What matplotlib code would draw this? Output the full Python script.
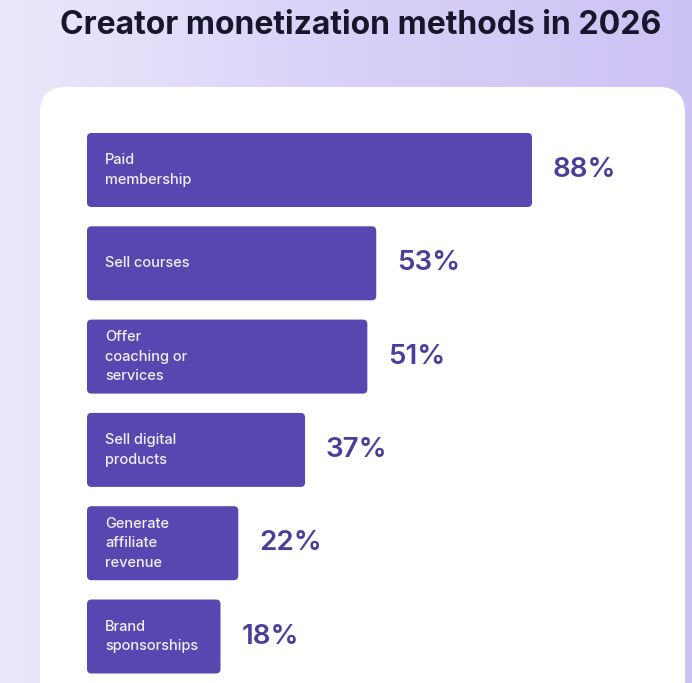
import numpy as np
import matplotlib.pyplot as plt
from matplotlib.patches import FancyBboxPatch
from matplotlib.colors import LinearSegmentedColormap

plt.rcParams['font.family'] = ['Inter', 'DejaVu Sans']

methods = ["Paid\nmembership", "Sell courses", "Offer\ncoaching or\nservices",
           "Sell digital\nproducts", "Generate\naffiliate\nrevenue", "Brand\nsponsorships"]
shares = [88, 53, 51, 37, 22, 18]
title = "Creator monetization methods in 2026"

W, H = 692, 683
fig = plt.figure(figsize=(W / 100, H / 100), dpi=100)

# lavender gradient background
bg = fig.add_axes([0, 0, 1, 1])
bg.set_axis_off()
cmap = LinearSegmentedColormap.from_list("lav", ["#ECE8FB", "#D9D1F8", "#CDC2F4"])
grad = np.linspace(0, 1, 256).reshape(1, -1)
bg.imshow(grad, cmap=cmap, aspect="auto", extent=[0, W, 0, H])
bg.set_xlim(0, W)
bg.set_ylim(H, 0)

# white card
card = FancyBboxPatch((40, 87), 645, 700, boxstyle="round,pad=0,rounding_size=26",
                      facecolor="white", edgecolor="none")
bg.add_patch(card)

bg.text(361, 34, title, fontsize=23, fontweight="bold", color="#17172B",
        ha="center", va="baseline")

# chart axes, pixel geometry
pad = 12
px_per_unit = 4.45
row_px = 93.3
first_row = 170
ax_left, ax_right, ax_top, ax_bottom = 87, 685, 90, 683
ax = fig.add_axes([ax_left / W, 1 - ax_bottom / H, (ax_right - ax_left) / W, (ax_bottom - ax_top) / H])
ax.set_xlim(-pad, -pad + (ax_right - ax_left) / px_per_unit)
ax.set_ylim((ax_bottom - first_row) / row_px, (ax_top - first_row) / row_px)
ax.set_axis_off()
ax.patch.set_alpha(0)

y = np.arange(len(methods))
bar_h = 74 / row_px
bars = ax.barh(y, [s + pad for s in shares], left=-pad, height=bar_h, color="none")

bar_color = "#5847B0"
r = 4.5 / px_per_unit
for b in bars:
    rb = FancyBboxPatch((b.get_x(), b.get_y()), b.get_width(), b.get_height(),
                        boxstyle=f"round,pad=0,rounding_size={r}",
                        mutation_aspect=px_per_unit / row_px,
                        facecolor=bar_color, edgecolor="none")
    ax.add_patch(rb)

for i, (m, s) in enumerate(zip(methods, shares)):
    ax.annotate(m, xy=(-pad, i), xytext=(13, 0), textcoords="offset points",
                ha="left", va="center", fontsize=10.5, color="#F1EFFA",
                linespacing=1.5, fontweight="medium")
    ax.annotate(f"{s}%", xy=(s, i), xytext=(15, 0), textcoords="offset points",
                ha="left", va="center", fontsize=20, color="#4A3E9B",
                fontweight="semibold")

fig.savefig("out.png", dpi=100)
